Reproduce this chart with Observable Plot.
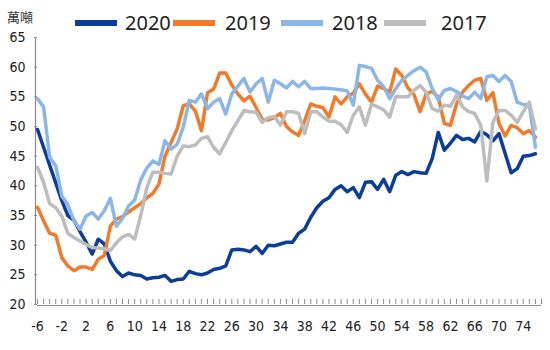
<!DOCTYPE html>
<html>
<head>
<meta charset="utf-8">
<script src="https://cdn.jsdelivr.net/npm/d3@7"></script>
<script src="https://cdn.jsdelivr.net/npm/@observablehq/plot@0.6"></script>
<style>
  body { margin: 0; background: #fff; }
  #wrap { position: relative; width: 550px; height: 350px; }
  #unit { position: absolute; left: 7px; top: 7px; font: 13px "Noto Sans CJK TC", sans-serif; color: #333; }
  .leg { position: absolute; top: 9px; display: flex; align-items: center; font: 20px "Noto Sans", "DejaVu Sans", sans-serif; color: #222; }
  .sw { width: 42px; height: 6px; margin-right: 8px; }
  #chart { position: absolute; left: 0; top: 0; }
  #chart svg text { font-stretch: condensed; }
</style>
</head>
<body>
<div id="wrap">
  <div id="chart"></div>
  <div id="unit">萬噸</div>
  <div id="legend"></div>
</div>
<script>
const weeks = d3.range(-6, 77);
const years = ["2020", "2019", "2018", "2017"];
const colors = ["#0b3d99", "#f07b2b", "#8db6e8", "#bdbdbd"];
const xTickLabels = d3.range(-6, 75, 4);
const yTickLabels = [20, 25, 30, 35, 40, 45, 50, 55, 60, 65];

const v2020 = [49.5,46.5,43.5,40.5,37.5,35.0,34.2,32.3,30.5,28.5,31.0,30.2,27.3,25.7,24.7,25.3,25.0,24.9,24.3,24.5,24.6,24.9,23.9,24.2,24.3,25.6,25.2,25.0,25.3,25.9,26.1,26.5,29.2,29.3,29.2,28.9,29.8,28.6,30.0,29.9,30.2,30.5,30.5,32.0,32.7,34.7,36.3,37.4,38.0,39.4,40.0,39.0,39.7,38.0,40.6,40.7,39.4,41.1,39.0,41.8,42.4,41.9,42.4,42.2,42.1,44.6,49.0,46.0,47.2,48.5,47.8,48.0,47.4,49.2,48.6,47.6,48.8,45.5,42.2,42.9,45.0,45.1,45.4];
const v2019 = [36.4,34.1,32.0,31.7,27.9,26.5,25.7,26.3,26.3,25.9,27.6,28.3,33.2,34.4,34.8,35.6,36.3,37.0,38.0,38.7,40.3,45.0,47.3,49.6,53.5,53.8,52.6,49.3,55.7,56.3,59.0,59.0,57.0,55.5,54.3,55.1,53.2,51.2,51.1,51.5,52.2,50.0,49.1,48.5,51.0,53.8,53.4,53.2,51.6,55.0,53.8,55.0,55.6,57.2,55.5,54.1,56.8,56.4,55.8,59.7,58.6,56.5,55.4,52.5,55.5,55.9,55.0,50.5,50.2,53.8,55.8,56.9,57.8,58.1,54.4,55.7,50.5,48.4,50.2,49.8,48.8,49.3,48.2];
const v2018 = [54.7,53.3,44.8,43.4,38.3,36.8,34.1,32.7,34.9,35.5,34.4,35.8,37.9,33.2,34.5,36.6,37.6,41.0,43.0,44.2,43.6,47.6,46.2,47.0,49.9,54.4,54.1,55.5,53.0,54.1,54.7,52.1,55.5,56.8,58.1,55.8,57.2,58.1,54.1,57.8,57.2,56.5,57.6,56.7,57.6,56.4,56.4,56.5,56.4,56.3,56.2,56.0,53.6,60.3,60.1,59.8,57.8,56.7,54.7,56.4,57.8,58.6,59.4,60.0,59.2,56.4,54.5,56.1,56.4,55.9,55.1,54.7,55.8,54.7,58.4,58.6,57.6,58.6,57.6,54.1,53.7,53.6,46.5];
const v2017 = [43.1,40.6,37.0,36.3,34.9,32.0,31.3,30.7,30.1,29.6,29.5,29.4,29.1,30.4,31.4,31.8,31.0,35.0,39.7,42.3,42.3,42.1,42.0,45.0,46.7,46.6,46.9,48.0,48.3,46.5,45.4,47.3,49.3,51.0,52.7,52.5,52.4,50.7,51.5,51.7,50.2,52.5,52.5,52.2,48.8,52.5,52.5,51.6,50.9,50.9,50.3,49.0,51.9,53.3,50.2,53.8,53.3,52.8,51.6,55.0,55.0,55.0,56.1,56.9,55.8,53.0,52.6,53.6,53.4,55.3,53.3,52.5,52.2,50.2,40.8,50.7,52.7,52.7,51.9,50.7,52.5,54.1,49.6];

const series = [v2020, v2019, v2018, v2017];
const rows = [];
years.forEach((yr, i) => weeks.forEach((w, j) => rows.push({year: yr, week: w, value: series[i][j]})));

const axisColor = "#8c8c8c";
const tickFont = "'DejaVu Sans Condensed', 'Liberation Sans Narrow', 'DejaVu Sans', sans-serif";

const chart = Plot.plot({
  width: 550,
  height: 350,
  marginTop: 37,
  marginBottom: 46,
  marginLeft: 37,
  marginRight: 9,
  style: {fontFamily: tickFont, fontSize: "14px", color: "#222", background: "transparent"},
  x: {domain: [-6, 77]},
  y: {domain: [20, 65]},
  color: {domain: years, range: colors},
  marks: [
    Plot.ruleX([-6], {stroke: axisColor, strokeWidth: 1.2, dx: -2, y1: 20, y2: 65}),
    Plot.ruleY([20], {stroke: axisColor, strokeWidth: 1.2, dy: 1, x1: -6, x2: 77}),
    Plot.ruleX(d3.range(-6, 78), {y1: 20, y2: 20.85, stroke: axisColor, strokeWidth: 1}),
    Plot.axisY({ticks: yTickLabels, tickSize: 3, tickPadding: 9, stroke: axisColor, label: null, fontSize: 14, tickFormat: d => String(d)}),
    Plot.axisX({ticks: xTickLabels, tickSize: 0, tickPadding: 17, label: null, fontSize: 14, tickFormat: d => String(d)}),
    ...years.map((yr, i) => Plot.line(rows.filter(d => d.year === yr), {
      x: "week", y: "value", stroke: colors[i], strokeWidth: 3.5, strokeLinejoin: "round"
    }))
  ]
});
document.getElementById("chart").appendChild(chart);

const legendLefts = [75, 173, 281, 384];
const legendGaps = [8, 10, 9, 15];
const legend = document.getElementById("legend");
years.forEach((yr, i) => {
  const item = document.createElement("div");
  item.className = "leg";
  item.style.left = legendLefts[i] + "px";
  const sw = document.createElement("div");
  sw.className = "sw";
  sw.style.background = colors[i];
  sw.style.marginRight = legendGaps[i] + "px";
  const t = document.createElement("span");
  t.textContent = yr;
  item.appendChild(sw);
  item.appendChild(t);
  legend.appendChild(item);
});
</script>
</body>
</html>
